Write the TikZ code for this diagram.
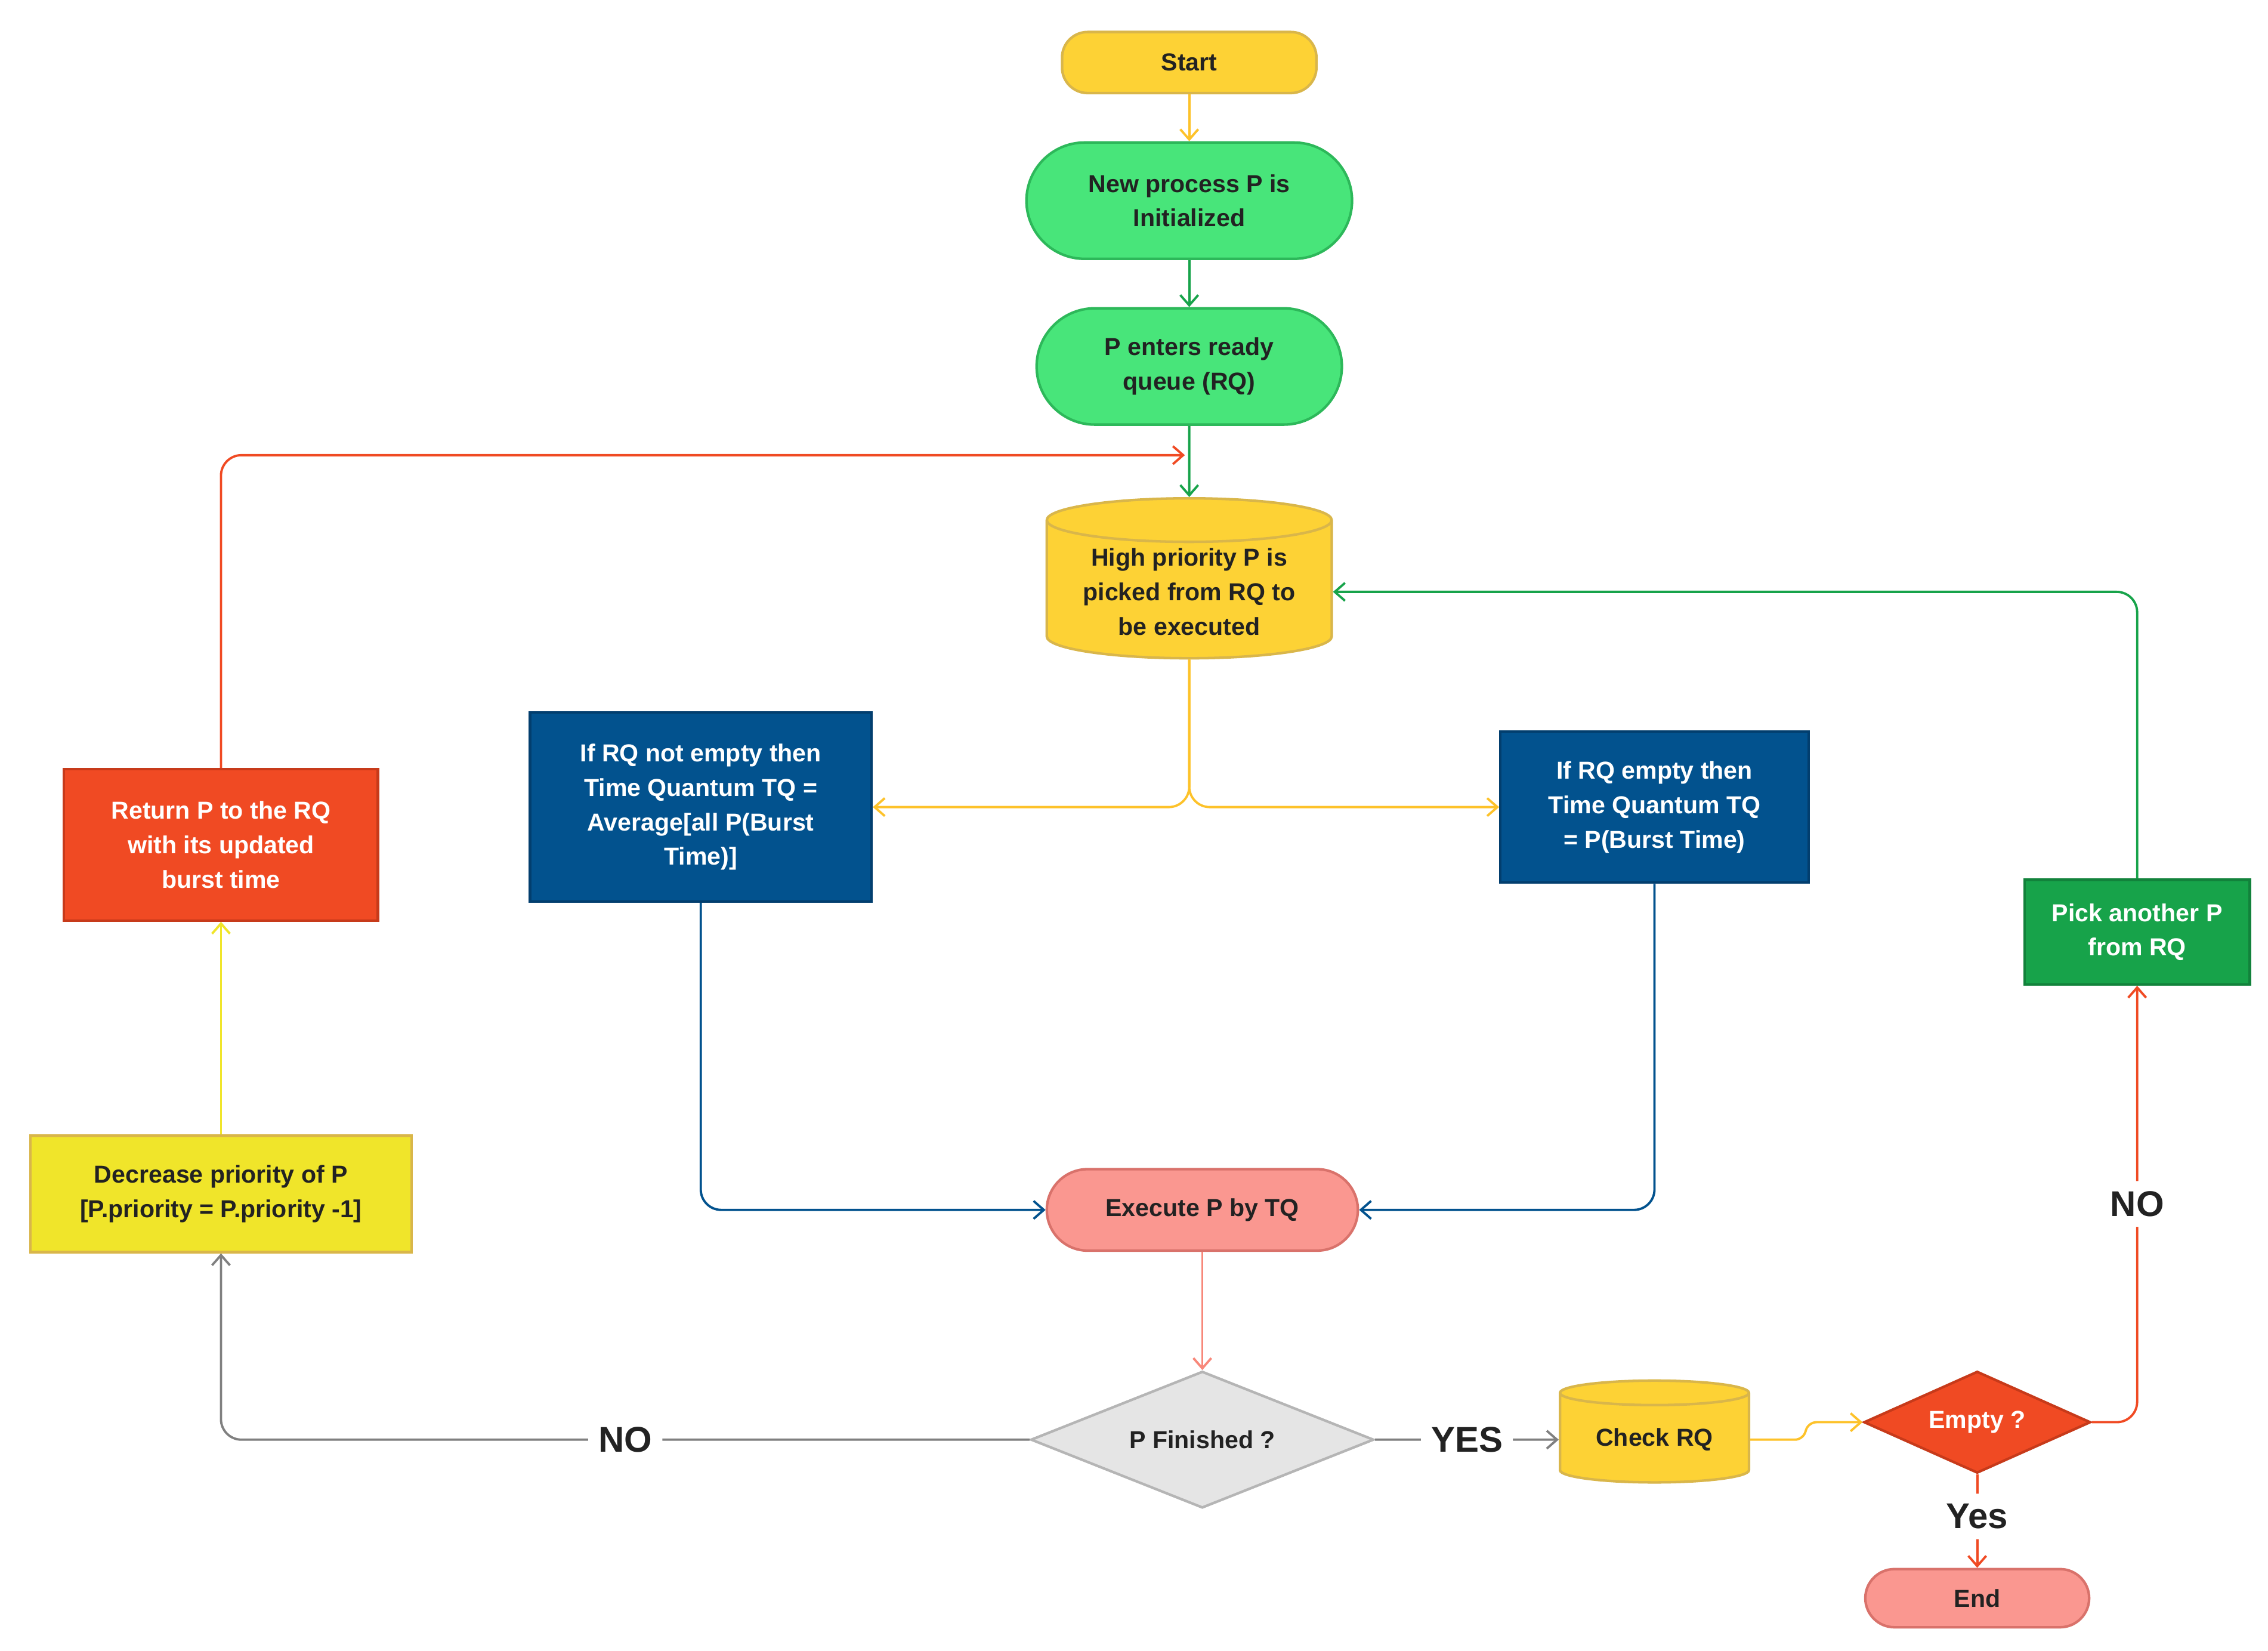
\documentclass[tikz,border=0pt]{standalone}
\usepackage{fontspec}
\setmainfont{Liberation Sans}
\usetikzlibrary{shapes.geometric,arrows.meta}
\definecolor{yel}{HTML}{FDD235}
\definecolor{yelb}{HTML}{D9B64A}
\definecolor{grn}{HTML}{48E57A}
\definecolor{grnb}{HTML}{2DB85A}
\definecolor{dgrn}{HTML}{17A34A}
\definecolor{blu}{HTML}{02528E}
\definecolor{blub}{HTML}{023E6E}
\definecolor{red}{HTML}{F04A23}
\definecolor{redb}{HTML}{C73A1A}
\definecolor{lyel}{HTML}{F0E52A}
\definecolor{pink}{HTML}{FA9790}
\definecolor{pinkb}{HTML}{D9726B}
\definecolor{gry}{HTML}{E5E5E5}
\definecolor{gryb}{HTML}{B5B5B5}
\definecolor{txt}{HTML}{222222}
\begin{document}
\begin{tikzpicture}[x=0.02cm,y=-0.02cm,
  every node/.style={font=\fontsize{9.6}{13.5}\selectfont\bfseries, align=center, text=txt, line width=1pt},
  arr/.style={-{Straight Barb[length=4pt,width=7pt]}, line width=0.9pt, rounded corners=8pt},
  rbox/.style={rectangle, rounded corners=#1},
  box/.style={rectangle, draw},
  cyl/.style={cylinder, shape border rotate=90, aspect=0.2, draw=yelb, fill=yel, inner sep=1pt},
  lab/.style={font=\fontsize{14}{16}\selectfont\bfseries, fill=white, inner sep=4pt}]
\useasboundingbox (0,0) rectangle (1560,1135);
\node[rbox=10pt, draw=yelb, fill=yel, minimum width=3.5cm, minimum height=0.84cm] (start) at (818,43) {Start};
\node[rbox=0.8cm, draw=grnb, fill=grn, minimum width=4.48cm, minimum height=1.6cm] (new) at (818,138) {New process P is\\Initialized};
\node[rbox=0.8cm, draw=grnb, fill=grn, minimum width=4.2cm, minimum height=1.6cm] (enter) at (818,252) {P enters ready\\queue (RQ)};
\node[cyl, minimum width=3.92cm, minimum height=2.2cm] (pick) at (818,407) {High priority P is\\picked from RQ to\\be executed};
\node[box, draw=blub, fill=blu, text=white, minimum width=4.7cm, minimum height=2.6cm] (bl) at (482,555) {If RQ not empty then\\Time Quantum TQ =\\Average[all P(Burst\\Time)]};
\node[box, draw=blub, fill=blu, text=white, minimum width=4.24cm, minimum height=2.08cm] (br) at (1138,555) {If RQ empty then\\Time Quantum TQ\\= P(Burst Time)};
\node[box, draw=redb, fill=red, text=white, minimum width=4.32cm, minimum height=2.08cm] (ret) at (152,581) {Return P to the RQ\\with its updated\\burst time};
\node[box, draw=yelb, fill=lyel, minimum width=5.24cm, minimum height=1.6cm] (dec) at (152,821) {Decrease priority of P\\{[P.priority = P.priority -1]}};
\node[rbox=0.56cm, draw=pinkb, fill=pink, minimum width=4.28cm, minimum height=1.12cm] (exe) at (827,832) {Execute P by TQ};
\node[diamond, aspect=2.5, draw=gryb, fill=gry, minimum width=4.72cm, minimum height=1.88cm, inner sep=0pt] (fin) at (827,990) {P Finished ?};
\node[cyl, minimum width=2.6cm, minimum height=1.4cm] (chk) at (1138,990) {\raisebox{-6pt}{Check RQ}};
\node[diamond, aspect=2.2, draw=redb, fill=red, text=white, minimum width=3.12cm, minimum height=1.4cm, inner sep=0pt] (emp) at (1360,978) {Empty ?};
\node[rbox=0.4cm, draw=pinkb, fill=pink, minimum width=3.08cm, minimum height=0.8cm] (end) at (1360,1099) {End};
\node[box, draw=dgrn!80!black, fill=dgrn, text=white, minimum width=3.1cm, minimum height=1.44cm] (pa) at (1470,641) {Pick another P\\from RQ};
\draw[arr, yel!80!orange] (start) -- (new);
\draw[arr, dgrn] (new) -- (enter);
\draw[arr, dgrn] (enter) -- (pick.north);
\draw[arr, red] (ret.north) |- (815,313);
\draw[arr, yel!80!orange] (pick.south) |- (bl.east);
\draw[arr, yel!80!orange] (pick.south) |- (br.west);
\draw[arr, blu] (bl.south) |- (exe.west);
\draw[arr, blu] (br.south) |- (exe.east);
\draw[arr, pink!80!red] (exe) -- (fin.north);
\draw[arr, gray] (fin.west) -| node[lab, pos=0.25] {NO} (dec.south);
\draw[arr, gray] (fin.east) -- node[lab] {YES} (chk.west);
\draw[arr, yel!80!orange, rounded corners=3pt] (chk.east) -- (1240,990) -- (1244,978) -- (emp.west);
\draw[arr, red] (emp.east) -| node[lab, pos=0.75] {NO} (pa.south);
\draw[arr, red] (emp.south) -- node[lab, pos=0.45] {Yes} (end.north);
\draw[arr, dgrn] (pa.north) |- (pick.east);
\draw[arr, lyel] (dec.north) -- (ret.south);
\end{tikzpicture}
\end{document}
